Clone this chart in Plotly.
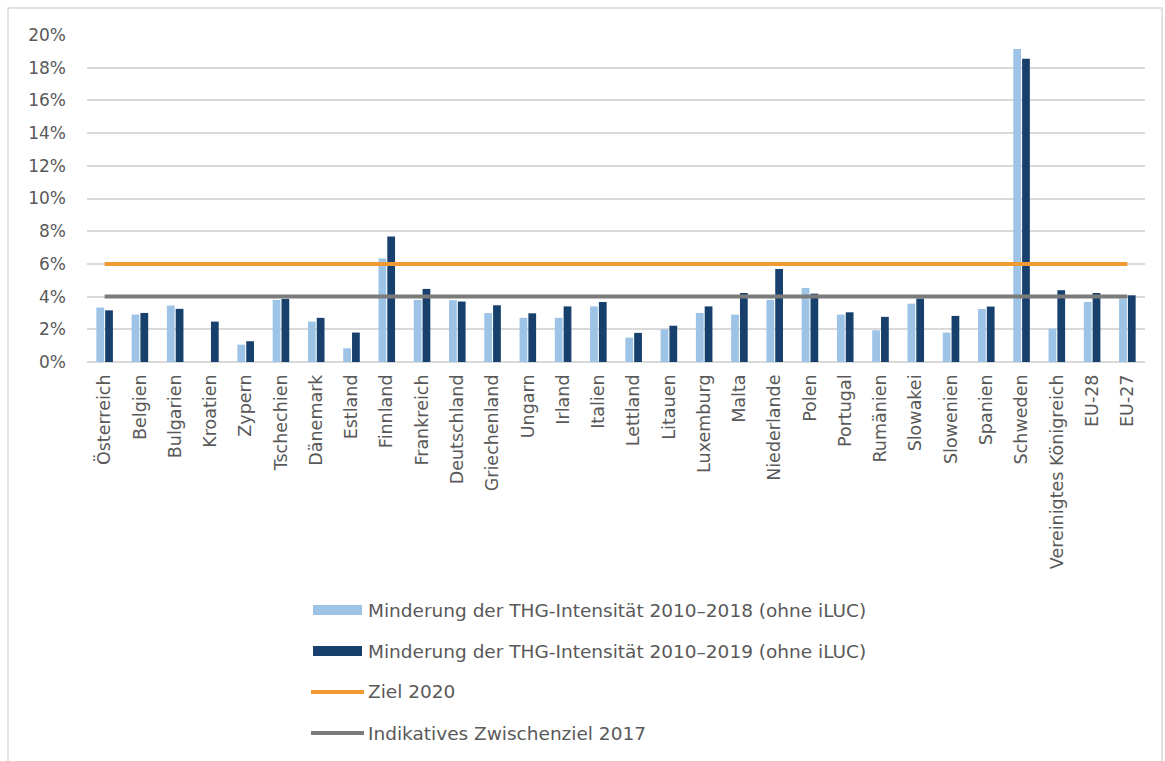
import plotly.graph_objects as go

countries = ["Österreich", "Belgien", "Bulgarien", "Kroatien", "Zypern", "Tschechien",
             "Dänemark", "Estland", "Finnland", "Frankreich", "Deutschland", "Griechenland",
             "Ungarn", "Irland", "Italien", "Lettland", "Litauen", "Luxemburg", "Malta",
             "Niederlande", "Polen", "Portugal", "Rumänien", "Slowakei", "Slowenien",
             "Spanien", "Schweden", "Vereinigtes Königreich", "EU-28", "EU-27"]

minderung_2018 = [3.33, 2.9, 3.45, 0.0, 1.06, 3.8, 2.47, 0.84, 6.33, 3.8, 3.78, 3.0,
                  2.7, 2.7, 3.4, 1.49, 2.0, 3.0, 2.9, 3.8, 4.53, 2.9, 1.94, 3.57,
                  1.8, 3.24, 19.14, 2.04, 3.67, 3.88]
minderung_2019 = [3.16, 3.0, 3.25, 2.47, 1.27, 3.86, 2.7, 1.8, 7.67, 4.47, 3.7, 3.47,
                  2.98, 3.4, 3.67, 1.78, 2.22, 3.4, 4.22, 5.69, 4.18, 3.04, 2.76, 3.88,
                  2.82, 3.39, 18.55, 4.39, 4.22, 4.08]
ziel_2020 = 6.0
zwischenziel_2017 = 4.0

y_tickvals = [0, 2, 4, 6, 8, 10, 12, 14, 16, 18, 20]
y_ticktext = ["0%", "2%", "4%", "6%", "8%", "10%", "12%", "14%", "16%", "18%", "20%"]

legend_labels = ["Minderung der THG-Intensität 2010–2018 (ohne iLUC)",
                 "Minderung der THG-Intensität 2010–2019 (ohne iLUC)",
                 "Ziel 2020",
                 "Indikatives Zwischenziel 2017"]

LIGHT = "#9DC3E6"
DARK = "#17406D"
ORANGE = "#F09A33"
GREY = "#7B7B7B"
TEXT = "#595959"
FONT = "DejaVu Sans"

fig = go.Figure()
fig.add_trace(go.Bar(x=countries, y=minderung_2018, name=legend_labels[0],
                     marker=dict(color=LIGHT, line=dict(width=0))))
fig.add_trace(go.Bar(x=countries, y=minderung_2019, name=legend_labels[1],
                     marker=dict(color=DARK, line=dict(width=0))))
fig.add_trace(go.Scatter(x=countries, y=[ziel_2020] * len(countries), mode="lines",
                         name=legend_labels[2], line=dict(color=ORANGE, width=4)))
fig.add_trace(go.Scatter(x=countries, y=[zwischenziel_2017] * len(countries), mode="lines",
                         name=legend_labels[3], line=dict(color=GREY, width=4)))

# plot area in pixels
L, R, T, B = 87, 1145, 35, 362
W, H = R - L, B - T


def px(xp):
    return (xp - L) / W


def py(yp):
    return (B - yp) / H


shapes = []
annotations = []
# outer border
shapes.append(dict(type="rect", xref="paper", yref="paper",
                   x0=px(8), x1=px(1162), y0=py(790), y1=py(8),
                   line=dict(color="#D9D9D9", width=1.5), fillcolor="rgba(0,0,0,0)", layer="below"))

rows = [610, 651, 692, 733]
for i, (lab, yy) in enumerate(zip(legend_labels, rows)):
    if i < 2:
        col = LIGHT if i == 0 else DARK
        shapes.append(dict(type="rect", xref="paper", yref="paper",
                           x0=px(313), x1=px(362), y0=py(yy + 5), y1=py(yy - 5),
                           line=dict(width=0), fillcolor=col))
    else:
        col = ORANGE if i == 2 else GREY
        shapes.append(dict(type="line", xref="paper", yref="paper",
                           x0=px(311), x1=px(364), y0=py(yy), y1=py(yy),
                           line=dict(color=col, width=4)))
    annotations.append(dict(xref="paper", yref="paper", x=px(366), y=py(yy),
                            xanchor="left", yanchor="middle", text=lab, showarrow=False,
                            font=dict(family=FONT, size=18.5, color=TEXT)))

fig.update_layout(
    width=1165, height=761,
    margin=dict(l=L, r=1165 - R, t=T, b=761 - B, pad=0),
    paper_bgcolor="white", plot_bgcolor="white",
    barmode="group", bargap=0.5, bargroupgap=0.12,
    showlegend=False,
    shapes=shapes, annotations=annotations,
    font=dict(family=FONT, color=TEXT),
    xaxis=dict(tickangle=-90, tickfont=dict(family=FONT, size=17.5, color=TEXT),
               showgrid=False, showline=False, ticks="", zeroline=False,
               ticklabelstandoff=8,
               range=[-0.5, len(countries) - 0.5]),
    yaxis=dict(range=[0, 20], tickvals=y_tickvals, ticktext=y_ticktext,
               tickfont=dict(family=FONT, size=17, color=TEXT),
               showgrid=True, gridcolor="#D9D9D9", gridwidth=1.5,
               zeroline=True, zerolinecolor="#D9D9D9", zerolinewidth=1.5,
               showline=False, ticks="", ticklabelstandoff=20),
)

fig.write_html("out.html")
